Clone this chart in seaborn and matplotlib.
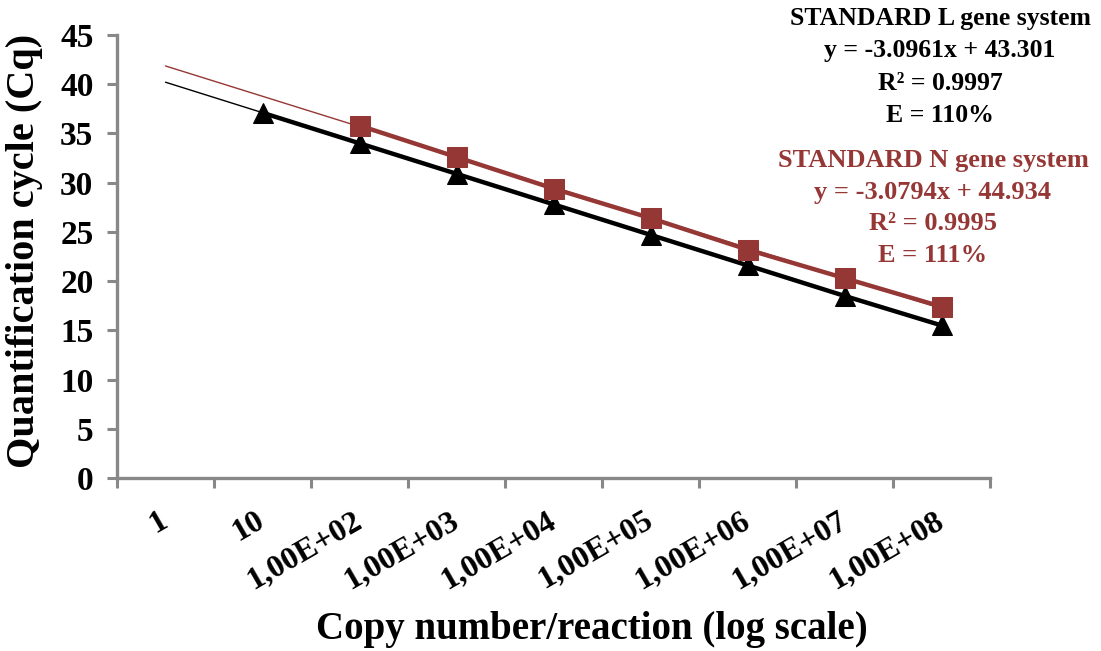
import matplotlib
matplotlib.use("Agg")
import matplotlib.pyplot as plt
import seaborn as sns
import numpy as np
import pandas as pd

# data
categories = ["1", "10", "1,00E+02", "1,00E+03", "1,00E+04",
              "1,00E+05", "1,00E+06", "1,00E+07", "1,00E+08"]
l_gene_cq = [None, 37.1, 34.0, 30.9, 27.8, 24.7, 21.6, 18.5, 15.5]
n_gene_cq = [None, None, 35.8, 32.6, 29.4, 26.4, 23.2, 20.3, 17.4]
l_slope, l_intercept = -3.0961, 43.301
n_slope, n_intercept = -3.0794, 44.934

l_text = ["STANDARD L gene system", "y = -3.0961x + 43.301", "R² = 0.9997", "E = 110%"]
n_text = ["STANDARD N gene system", "y = -3.0794x + 44.934", "R² = 0.9995", "E = 111%"]

BLACK = "#000000"
RED = "#953735"
GRAY = "#888888"

sns.set_theme(style="white")
plt.rcParams["font.family"] = ["Liberation Serif", "DejaVu Serif"]
plt.rcParams["font.weight"] = "bold"
plt.rcParams["text.color"] = BLACK
plt.rcParams["axes.labelcolor"] = BLACK

pos = np.arange(len(categories))
df = pd.DataFrame({"pos": pos, "L": l_gene_cq, "N": n_gene_cq}).astype(float)

fig = plt.figure(figsize=(11.01, 6.51), dpi=100)
ax = fig.add_axes([117 / 1101, 1 - 478 / 651, 873 / 1101, 443 / 651])

# trendlines (Excel numbers categories from 1)
xs = np.array([pos[0], pos[-1]])
sns.lineplot(x=xs, y=l_slope * (xs + 1) + l_intercept, color=BLACK, lw=1.0, ax=ax)
sns.lineplot(x=xs, y=n_slope * (xs + 1) + n_intercept, color=RED, lw=1.0, ax=ax)

# data series
sns.lineplot(data=df, x="pos", y="L", color=BLACK, lw=3.2, marker="^",
             markersize=15, markeredgecolor=BLACK, ax=ax, zorder=3)
sns.lineplot(data=df, x="pos", y="N", color=RED, lw=3.2, marker="s",
             markersize=14, markeredgecolor=RED, ax=ax, zorder=4)

ax.set_xlim(-0.5, len(categories) - 0.5)
ax.set_ylim(0, 45)
ax.set_yticks(np.arange(0, 46, 5))
ax.set_xticks(np.arange(-0.5, len(categories), 1.0))
ax.set_xticklabels([])
ax.set_xticks(pos, minor=True)
ax.set_xticklabels(categories, minor=True, rotation=30, ha="right", va="center",
                   rotation_mode="anchor", fontsize=23, fontweight="bold", color=BLACK)
ax.tick_params(axis="x", which="minor", bottom=True, length=0, pad=29)
ax.tick_params(axis="x", which="major", bottom=True, length=7, width=2.2,
               color=GRAY, direction="out")
ax.tick_params(axis="y", left=True, length=7, width=2.2, color=GRAY, direction="out",
               labelsize=24, labelcolor=BLACK, pad=10)
for lbl in ax.get_yticklabels():
    lbl.set_fontweight("bold")

for side in ["top", "right"]:
    ax.spines[side].set_visible(False)
for side in ["left", "bottom"]:
    ax.spines[side].set_color(GRAY)
    ax.spines[side].set_linewidth(2.4)

ax.grid(False)
ax.set_xlabel("Copy number/reaction (log scale)", fontsize=28, fontweight="bold")
ax.set_ylabel("Quantification cycle (Cq)", fontsize=29, fontweight="bold")
ax.xaxis.set_label_coords(0.544, -0.3)
ax.yaxis.set_label_coords(-0.085, 0.512)

# equation boxes
for i, t in enumerate(l_text):
    fig.text(940 / 1101, 1 - (18 + 32.5 * i) / 651, t, ha="center", va="center",
             fontsize=18.5, fontweight="bold", color=BLACK)
for i, t in enumerate(n_text):
    fig.text(933 / 1101, 1 - (161 + 31.5 * i) / 651, t, ha="center", va="center",
             fontsize=19, fontweight="bold", color=RED)

fig.savefig("out.png", dpi=100)
